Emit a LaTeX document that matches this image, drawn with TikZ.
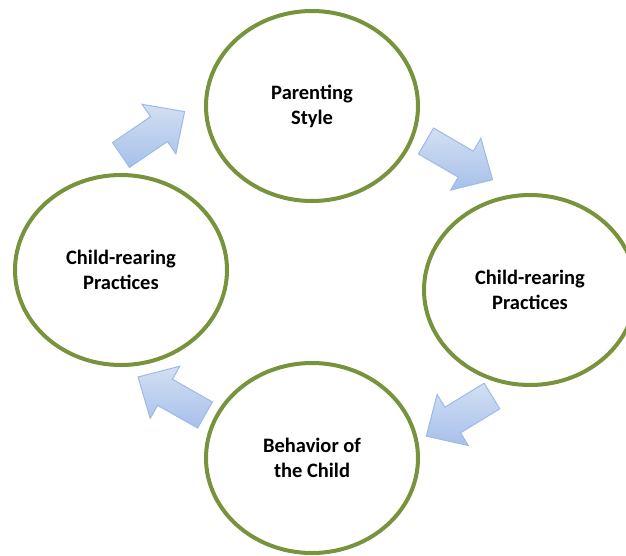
\documentclass[tikz,border=0pt]{standalone}
\usepackage{fontspec}
\setmainfont{Carlito}
\usetikzlibrary{shapes.geometric}
\definecolor{ringgreen}{HTML}{77933C}
\definecolor{arrowlight}{HTML}{D3DFF3}
\definecolor{arrowdark}{HTML}{A7C0EA}
\definecolor{arrowedge}{HTML}{9DBAE6}
\tikzset{
  ring/.style={ellipse, draw=ringgreen, line width=4pt, fill=white,
    minimum width=212pt, minimum height=190pt, inner sep=0pt,
    align=center, font=\fontsize{20.5}{25}\selectfont\bfseries},
  blockarrow/.pic={
    \path[top color=arrowlight, bottom color=arrowdark, draw=arrowedge, line width=1pt, line join=miter]
      (0,-15) -- (46,-15) -- (46,-30) -- (77,0) -- (46,30) -- (46,15) -- (0,15) -- cycle;
  }
}
\begin{document}
\begin{tikzpicture}[x=1pt,y=-1pt]
\useasboundingbox (0,0) rectangle (626,555);
\node[ring] (ps)  at (312,106) {Parenting\\Style};
\node[ring] (crR) at (530,290) {Child-rearing\\Practices};
\node[ring] (bc)  at (312,458) {Behavior of\\the Child};
\node[ring] (crL) at (121,270) {Child-rearing\\Practices};
\coordinate (a1) at (121,155);
\coordinate (a2) at (426,141);
\coordinate (a3) at (492,396);
\coordinate (a4) at (205,415);
\pic[shift={(a1)}, rotate=34.3] {blockarrow};
\pic[shift={(a2)}, rotate=-30.2] {blockarrow};
\pic[shift={(a3)}, rotate=211.4] {blockarrow};
\pic[shift={(a4)}, rotate=150.4] {blockarrow};
\end{tikzpicture}
\end{document}
